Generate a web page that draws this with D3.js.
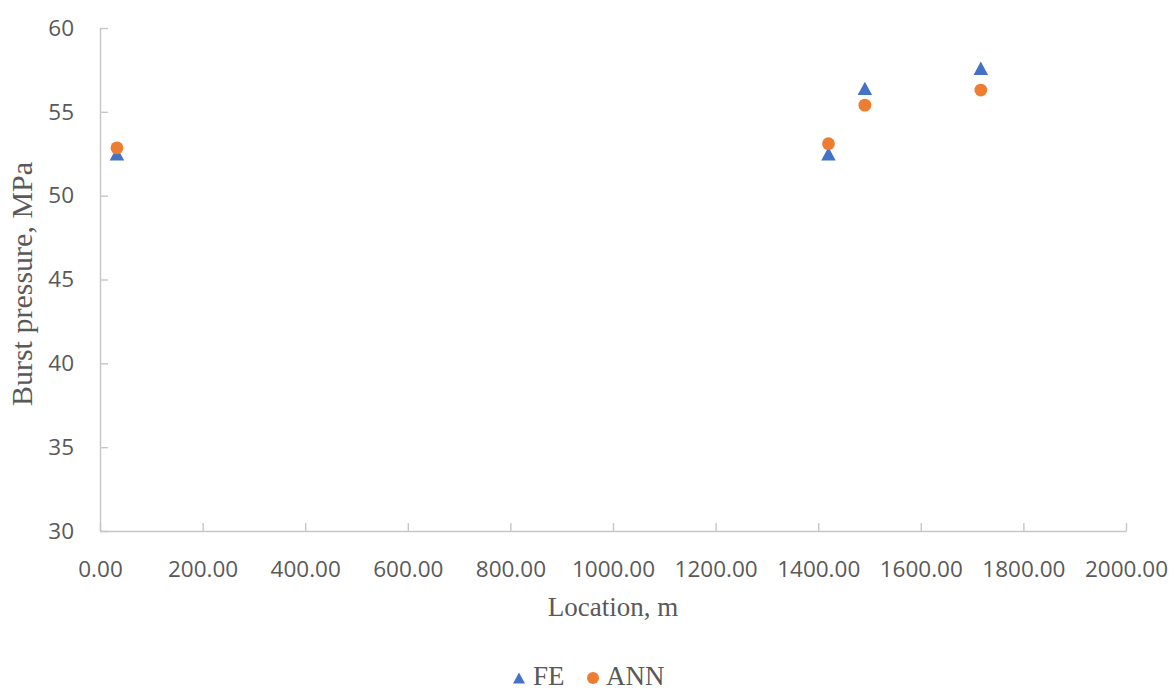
<!DOCTYPE html>
<html><head><meta charset="utf-8">
<script src="https://cdn.jsdelivr.net/npm/d3@7/dist/d3.min.js"></script>
<style>body{margin:0;background:#fff}svg{display:block}</style>
</head><body>
<svg id="chart" width="1174" height="691"></svg>
<script>
const location_m = [33, 1420, 1491, 1717];
const feValues = [52.5, 52.5, 56.4, 57.6];
const annValues = [52.85, 53.1, 55.4, 56.3];
const xTicks = [0, 200, 400, 600, 800, 1000, 1200, 1400, 1600, 1800, 2000];
const yTicks = [30, 35, 40, 45, 50, 55, 60];
const seriesNames = ["FE", "ANN"];
const colors = {FE: "#4472C4", ANN: "#ED7D31"};

const svg = d3.select("#chart");
const x = d3.scaleLinear().domain([0, 2000]).range([100, 1126]);
const y = d3.scaleLinear().domain([30, 60]).range([531, 28]);
const axisColor = "#C6C6C6";
const tickFont = "'Open Sans', sans-serif";
const titleFont = "'Liberation Serif', 'Times New Roman', serif";

// X axis
const xAxis = svg.append("g").attr("transform", `translate(0,${y(30)})`)
  .call(d3.axisBottom(x).tickValues(xTicks).tickSizeInner(-8).tickSizeOuter(0).tickPadding(30)
    .tickFormat(d => d3.format(".2f")(d)));
xAxis.select(".domain").attr("stroke", axisColor).attr("stroke-width", 1.4);
xAxis.selectAll(".tick line").attr("stroke", axisColor).attr("stroke-width", 1.4);
xAxis.selectAll(".tick text").attr("fill", "#595959").attr("font-family", tickFont).attr("font-size", 22.5);

// Y axis
const yAxis = svg.append("g").attr("transform", `translate(${x(0)},0)`)
  .call(d3.axisLeft(y).tickValues(yTicks).tickSizeInner(-8).tickSizeOuter(0).tickPadding(26));
yAxis.select(".domain").attr("stroke", axisColor).attr("stroke-width", 1.4);
yAxis.selectAll(".tick line").attr("stroke", axisColor).attr("stroke-width", 1.4);
yAxis.selectAll(".tick text").attr("fill", "#595959").attr("font-family", tickFont).attr("font-size", 22.5);

// Titles
svg.append("text").attr("x", (x(0) + x(2000)) / 2).attr("y", 616).attr("text-anchor", "middle")
  .attr("font-family", titleFont).attr("font-size", 27).attr("fill", "#595959").text("Location, m");
svg.append("text").attr("transform", `translate(32,284) rotate(-90)`)
  .attr("text-anchor", "middle").attr("font-family", titleFont).attr("font-size", 30)
  .attr("fill", "#595959").text("Burst pressure, MPa");

const triPath = (w, h) => `M0,${-h/2}L${w/2},${h/2}L${-w/2},${h/2}Z`;

// FE series
svg.append("g").selectAll("path").data(location_m.map((d, i) => [d, feValues[i]])).join("path")
  .attr("d", triPath(14.5, 13.3))
  .attr("transform", d => `translate(${x(d[0])},${y(d[1])})`)
  .attr("fill", colors.FE);

// ANN series
svg.append("g").selectAll("circle").data(location_m.map((d, i) => [d, annValues[i]])).join("circle")
  .attr("cx", d => x(d[0])).attr("cy", d => y(d[1])).attr("r", 6.4)
  .attr("fill", colors.ANN);

// Legend
const leg = svg.append("g");
leg.append("path").attr("d", triPath(12, 11)).attr("transform", "translate(519,678)").attr("fill", colors.FE);
leg.append("text").attr("x", 533).attr("y", 685).attr("font-family", titleFont).attr("font-size", 27)
  .attr("fill", "#595959").text(seriesNames[0]);
leg.append("circle").attr("cx", 593).attr("cy", 678).attr("r", 6).attr("fill", colors.ANN);
leg.append("text").attr("x", 606).attr("y", 685).attr("font-family", titleFont).attr("font-size", 27)
  .attr("fill", "#595959").text(seriesNames[1]);
</script>
</body></html>
